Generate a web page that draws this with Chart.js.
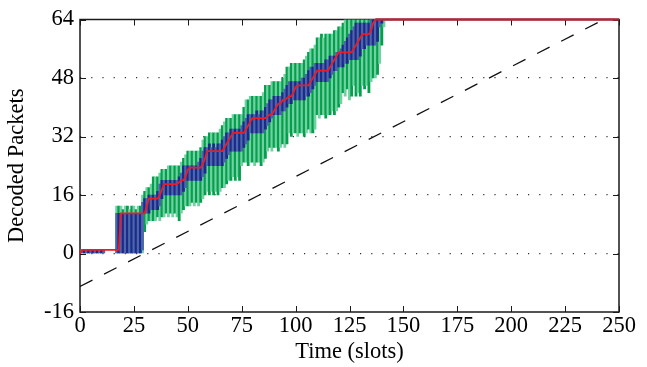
<!DOCTYPE html>
<html>
<head>
<meta charset="utf-8">
<script src="https://cdn.jsdelivr.net/npm/chart.js@4.4.0/dist/chart.umd.min.js"></script>
<style>
  html, body { margin: 0; padding: 0; background: #fff; }
  #wrap { width: 647px; height: 367px; position: relative; }
</style>
</head>
<body>
<div id="wrap"><canvas id="chart" width="647" height="367"></canvas></div>
<script>
// --- Data (one entry per time slot, slot 0 .. 141) ---
const boxMin = [
  null, 0, 0, 0, 0, 0, 0, 0, 0, 0, 0, 0, null, null, null, null, null, 0, 0, 0,
  0, 0, 0, 0, 0, 0, 0, 0, 0, 0, 6, 8, 9, 9, 9, 9, 10, 9, 10, 10,
  11, 10, 11, 10, 11, 10, 9, 11, 12, 13, 13, 13, 14, 13, 14, 13, 14, 15, 16, 17,
  16, 17, 16, 17, 16, 17, 18, 18, 19, 20, 20, 21, 20, 21, 20, 24, 25, 25, 24, 25,
  25, 24, 25, 25, 24, 25, 26, 28, 29, 28, 29, 29, 28, 29, 30, 29, 30, 33, 32, 33,
  33, 32, 33, 33, 32, 33, 34, 33, 33, 34, 38, 37, 38, 38, 37, 38, 38, 39, 38, 39,
  40, 41, 44, 43, 45, 42, 43, 46, 43, 44, 43, 46, 45, 46, 44, 47, 48, 48, 49, 52,
  57, 62
];
const boxQ1 = [
  null, 0, 0, 0, 0, 0, 0, 0, 0, 0, 0, 0, null, null, null, null, null, 0, 0, 0,
  0, 0, 0, 0, 0, 0, 0, 0, 0, 1, 11, 11, 11, 12, 12, 12, 12, 13, 15, 16,
  16, 16, 16, 16, 16, 16, 16, 16, 17, 18, 20, 20, 20, 20, 20, 20, 20, 21, 22, 24,
  24, 24, 24, 24, 24, 24, 24, 25, 26, 27, 28, 28, 28, 28, 28, 28, 29, 30, 31, 33,
  33, 33, 33, 33, 33, 33, 34, 35, 36, 37, 38, 38, 38, 38, 39, 39, 40, 41, 41, 42,
  42, 42, 42, 42, 42, 43, 43, 44, 45, 46, 47, 47, 47, 47, 47, 47, 48, 49, 50, 50,
  51, 51, 51, 52, 52, 53, 53, 53, 53, 53, 54, 56, 56, 57, 57, 57, 57, 57, 58, 62,
  63, 64
];
const median = [
  0, 1, 1, 1, 1, 1, 1, 1, 1, 1, 1, 1, 1, 1, 1, 1, 1, 1, 1, 11,
  11, 11, 11, 11, 11, 11, 11, 11, 11, 11, 11, 13, 15, 15, 15, 15, 15, 16, 17.5, 19,
  19, 19, 19, 19, 19, 19, 19.5, 20, 20, 21, 23, 23.5, 23.5, 23.5, 23.5, 23.5, 23.5, 24.5, 26, 28,
  28, 28, 28, 28, 28, 28, 28, 29, 30, 31, 32, 33, 33, 33, 33, 33, 33, 34, 35, 36,
  37, 37, 37, 37, 37, 37, 37, 37.5, 38, 38, 39, 40, 41, 41, 42, 42, 42.5, 43, 43, 44,
  45.5, 46, 46, 46, 46, 46, 46, 47, 48, 49, 50, 50, 50, 50, 50, 50, 51, 52, 53, 54,
  55, 55, 55, 55, 55, 55, 55, 56, 57, 58, 59, 60, 60, 60, 60, 61, 63, 64, 64, 64,
  64, 64
];
const boxQ3 = [
  null, 1, 1, 1, 1, 1, 1, 1, 1, 1, 1, 1, null, null, null, null, null, 11, 11, 11,
  11, 11, 11, 11, 11, 11, 11, 11, 11, 14, 15, 15, 16, 16, 16, 16, 17, 19, 20, 20,
  20, 20, 20, 20, 20, 20, 21, 22, 24, 24, 24, 24, 24, 24, 24, 25, 26, 28, 29, 29,
  30, 29, 30, 29, 30, 30, 31, 32, 33, 33, 34, 34, 34, 34, 34, 35, 36, 37, 38, 38,
  38, 38, 39, 38, 39, 39, 40, 41, 42, 42, 43, 43, 43, 43, 44, 45, 46, 47, 47, 47,
  47, 47, 47, 48, 48, 49, 50, 51, 51, 52, 52, 52, 52, 52, 53, 53, 54, 54, 54, 55,
  55, 56, 57, 58, 59, 60, 61, 62, 63, 63, 63, 63, 63, 63, 63, 64, 64, 64, 64, 64,
  64, 64
];
const boxMax = [
  null, 1, 1, 1, 1, 1, 1, 1, 1, 1, 1, 1, null, null, null, null, null, 13, 13, 13,
  12, 13, 13, 12, 13, 13, 12, 13, 13, 16, 17, 18, 18, 19, 21, 21, 21, 22, 23, 23,
  23, 24, 24, 24, 24, 24, 24, 25, 26, 27, 28, 28, 28, 28, 28, 28, 29, 31, 32, 32,
  33, 33, 33, 33, 33, 34, 35, 36, 37, 37, 37, 38, 38, 38, 38, 38, 40, 42, 42, 43,
  43, 43, 43, 43, 43, 44, 46, 46, 46, 47, 47, 47, 47, 47, 48, 49, 51, 51, 52, 52,
  52, 52, 52, 52, 53, 54, 55, 56, 56, 57, 59, 59, 60, 59, 60, 60, 60, 60, 61, 61,
  62, 62, 63, 64, 64, 64, 64, 64, 64, 64, 64, 64, 64, 64, 64, 64, 64, 64, 64, 64,
  64, 64
];
// median stays at 64 after decoding finishes
const tailX = [141, 250];
const tailY = [64, 64];
// dashed reference line
const refX = [0, 243];
const refY = [-9, 64];

const xTicks = [0, 25, 50, 75, 100, 125, 150, 175, 200, 225, 250];
const yTicks = [-16, 0, 16, 32, 48, 64];

// --- Colours ---
const GREEN_DARK = '#03a04c';
const GREEN_LIGHT = '#72d0a2';
const BLUE_DARK = '#1c2a8c';
const BLUE_LIGHT = '#4d66aa';
const RED = '#ec1c24';
const RED_ON_FRAME = '#b0283a';

const FONT = { family: '"Liberation Serif", "Times New Roman", serif', size: 22.5 };

const rangeData = (lo, hi) => lo.map((v, i) => ({ x: i, y: v === null ? null : [v, hi[i]] }));
const stripe = (dark, light) => (c) => c.dataIndex % 2 ? light : dark;

const medianData = median.map((v, i) => ({ x: i, y: v }))
  .concat(tailX.map((x, i) => ({ x, y: tailY[i] })));
const refData = refX.map((x, i) => ({ x, y: refY[i] }));

// --- frame + inward tick marks, like the original plot ---
const framePlugin = {
  id: 'frame',
  beforeDatasetsDraw(chart) {
    const { ctx, chartArea: a, scales } = chart;
    ctx.save();
    ctx.strokeStyle = '#1a1a1a';
    ctx.lineWidth = 1.5;
    ctx.strokeRect(a.left, a.top, a.right - a.left, a.bottom - a.top);
    ctx.lineWidth = 1;
    ctx.beginPath();
    xTicks.forEach(v => {
      const px = Math.round(scales.x.getPixelForValue(v)) + 0.5;
      ctx.moveTo(px, a.bottom); ctx.lineTo(px, a.bottom - 6);
      ctx.moveTo(px, a.top); ctx.lineTo(px, a.top + 6);
    });
    yTicks.forEach(v => {
      const py = Math.round(scales.y.getPixelForValue(v)) + 0.5;
      ctx.moveTo(a.left, py); ctx.lineTo(a.left + 6, py);
      ctx.moveTo(a.right, py); ctx.lineTo(a.right - 6, py);
    });
    ctx.stroke();
    ctx.restore();
  }
};

new Chart(document.getElementById('chart').getContext('2d'), {
  data: {
    datasets: [
      {
        type: 'bar',
        data: rangeData(boxMin, boxMax),
        backgroundColor: stripe(GREEN_DARK, GREEN_LIGHT),
        borderWidth: 0,
        grouped: false,
        barPercentage: 1,
        categoryPercentage: 1,
        order: 4
      },
      {
        type: 'bar',
        data: rangeData(boxQ1, boxQ3),
        backgroundColor: stripe(BLUE_DARK, BLUE_LIGHT),
        borderWidth: 0,
        grouped: false,
        barPercentage: 1,
        categoryPercentage: 1,
        order: 3
      },
      {
        type: 'line',
        data: refData,
        borderColor: '#111',
        borderWidth: 1.3,
        borderDash: [14, 13],
        pointRadius: 0,
        order: 2
      },
      {
        type: 'line',
        data: medianData,
        borderColor: RED,
        borderWidth: 1.8,
        pointRadius: 0,
        tension: 0,
        clip: false,
        order: 1,
        // where the median sits on the top frame it looks darker in the original
        segment: {
          borderColor: (s) => s.p0.parsed.y === 64 && s.p1.parsed.y === 64 ? RED_ON_FRAME : RED,
          borderWidth: (s) => s.p0.parsed.y === 64 && s.p1.parsed.y === 64 ? 2.4 : 1.8
        }
      }
    ]
  },
  options: {
    responsive: false,
    animation: false,
    events: [],
    layout: { padding: { top: 15, right: 28, left: 0, bottom: 0 } },
    plugins: { legend: { display: false }, tooltip: { enabled: false } },
    scales: {
      x: {
        type: 'linear',
        min: 0,
        max: 250,
        offset: false,
        afterFit: (s) => { s.height = 55; },
        afterBuildTicks: (s) => { s.ticks = xTicks.map(v => ({ value: v })); },
        ticks: { color: '#000', font: FONT, padding: 1, maxRotation: 0, autoSkip: false },
        grid: { display: false, drawTicks: false, offset: false },
        border: { display: false },
        title: { display: true, text: 'Time (slots)', color: '#000', font: FONT, padding: { top: 0, bottom: 1 } }
      },
      y: {
        type: 'linear',
        min: -16,
        max: 64,
        afterFit: (s) => { s.width = 80; },
        afterBuildTicks: (s) => { s.ticks = yTicks.map(v => ({ value: v })); },
        ticks: { color: '#000', font: FONT, padding: 6, autoSkip: false },
        grid: {
          drawTicks: false,
          lineWidth: 1.2,
          color: (c) => [0, 16, 32, 48].includes(c.tick && c.tick.value) ? '#333' : 'rgba(0,0,0,0)'
        },
        border: { display: false, dash: [1.2, 10] },
        title: { display: true, text: 'Decoded Packets', color: '#000', font: FONT, padding: { top: 4, bottom: 0 } }
      }
    }
  },
  plugins: [framePlugin]
});
</script>
</body>
</html>
